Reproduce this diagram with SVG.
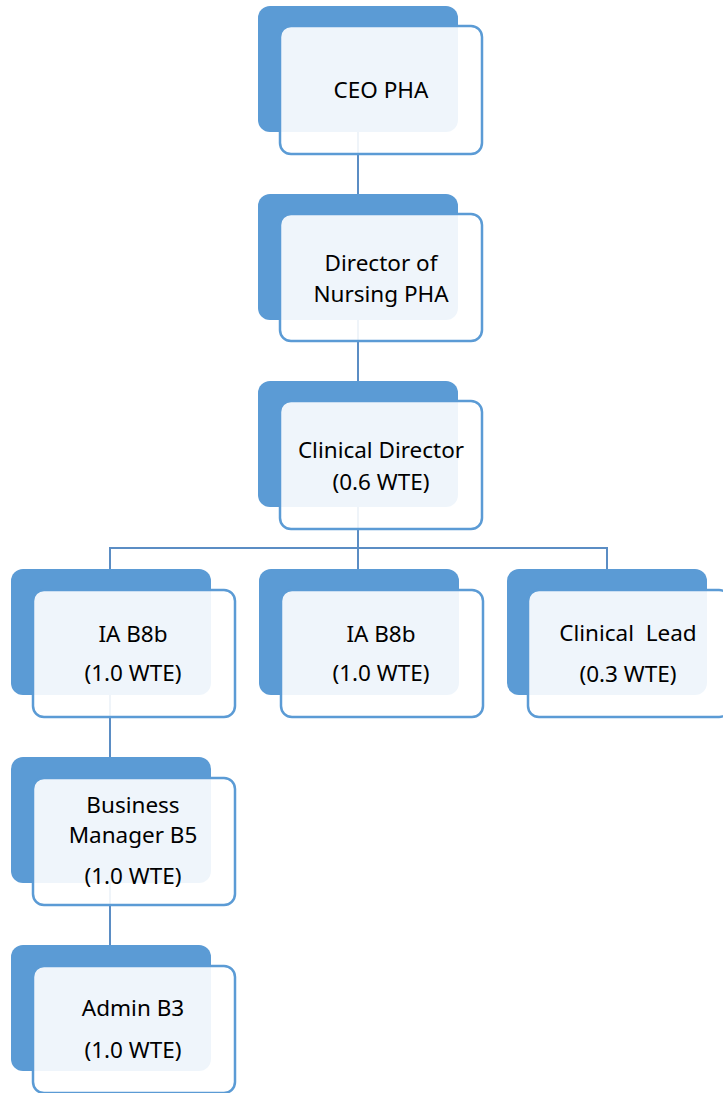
<svg xmlns="http://www.w3.org/2000/svg" width="723" height="1093" viewBox="0 0 723 1093">
  <style>
    .back { fill: #5B9BD5; }
    .front { fill: #FFFFFF; fill-opacity: 0.9; stroke: #5B9BD5; stroke-width: 2.5; }
    .link { fill: none; stroke: #5B8DC4; stroke-width: 2; }
    text { font-family: "Noto Sans", "Liberation Sans", Arial, sans-serif; font-size: 22.5px; fill: #000000; text-anchor: middle; white-space: pre; }
  </style>
  <rect width="723" height="1093" fill="#FFFFFF"/>

  <!-- connectors -->
  <g id="connectors">
    <line class="link" x1="358" y1="130" x2="358" y2="196"/>
    <line class="link" x1="358" y1="318" x2="358" y2="383"/>
    <line class="link" x1="358" y1="505" x2="358" y2="571"/>
    <polyline class="link" points="110,571 110,548 607,548 607,571"/>
    <line class="link" x1="110" y1="693" x2="110" y2="759"/>
    <line class="link" x1="110" y1="881" x2="110" y2="947"/>
  </g>

  <g id="ceo">
    <rect class="back" x="258" y="6" width="200" height="126" rx="12"/>
    <rect class="front" x="280" y="26" width="202" height="128" rx="11"/>
    <text x="381" y="98">CEO PHA</text>
  </g>

  <g id="director-nursing">
    <rect class="back" x="258" y="194" width="200" height="126" rx="12"/>
    <rect class="front" x="280" y="214" width="202" height="127" rx="11"/>
    <text x="381" y="271">Director of</text>
    <text x="381" y="302">Nursing PHA</text>
  </g>

  <g id="clinical-director">
    <rect class="back" x="258" y="381" width="200" height="126" rx="12"/>
    <rect class="front" x="280" y="401" width="202" height="128" rx="11"/>
    <text x="381" y="458">Clinical Director</text>
    <text x="381" y="490">(0.6 WTE)</text>
  </g>

  <g id="ia-left">
    <rect class="back" x="11" y="569" width="200" height="126" rx="12"/>
    <rect class="front" x="33" y="590" width="202" height="127" rx="11"/>
    <text x="133" y="642">IA B8b</text>
    <text x="133" y="681">(1.0 WTE)</text>
  </g>

  <g id="ia-middle">
    <rect class="back" x="259" y="569" width="200" height="126" rx="12"/>
    <rect class="front" x="281" y="590" width="202" height="127" rx="11"/>
    <text x="381" y="642">IA B8b</text>
    <text x="381" y="681">(1.0 WTE)</text>
  </g>

  <g id="clinical-lead">
    <rect class="back" x="507" y="569" width="200" height="126" rx="12"/>
    <rect class="front" x="528" y="590" width="202" height="127" rx="11"/>
    <text x="628" y="641">Clinical  Lead</text>
    <text x="628" y="682">(0.3 WTE)</text>
  </g>

  <g id="business-manager">
    <rect class="back" x="11" y="757" width="200" height="126" rx="12"/>
    <rect class="front" x="33" y="778" width="202" height="127" rx="11"/>
    <text x="133" y="813">Business</text>
    <text x="133" y="843">Manager B5</text>
    <text x="133" y="884">(1.0 WTE)</text>
  </g>

  <g id="admin">
    <rect class="back" x="11" y="945" width="200" height="126" rx="12"/>
    <rect class="front" x="33" y="966" width="202" height="127" rx="11"/>
    <text x="133" y="1016">Admin B3</text>
    <text x="133" y="1058">(1.0 WTE)</text>
  </g>
</svg>
